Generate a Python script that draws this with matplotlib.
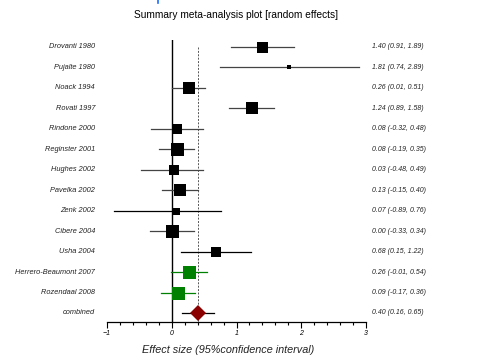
import matplotlib
matplotlib.use('Agg')
from matplotlib import pyplot as plt
from matplotlib.lines import Line2D
from matplotlib.ticker import MultipleLocator

plt.rcParams['font.family'] = ['Liberation Sans', 'DejaVu Sans']

# 数据
studies = ['Drovanti 1980', 'Pujalte 1980', 'Noack 1994', 'Rovati 1997', 'Rindone 2000',
           'Reginster 2001', 'Hughes 2002', 'Pavelka 2002', 'Zenk 2002', 'Cibere 2004',
           'Usha 2004', 'Herrero-Beaumont 2007', 'Rozendaal 2008']
effect = [1.40, 1.81, 0.26, 1.24, 0.08, 0.08, 0.03, 0.13, 0.07, 0.00, 0.68, 0.26, 0.09]
lower = [0.91, 0.74, 0.01, 0.89, -0.32, -0.19, -0.48, -0.15, -0.89, -0.33, 0.15, -0.01, -0.17]
upper = [1.89, 2.89, 0.51, 1.58, 0.48, 0.35, 0.49, 0.40, 0.76, 0.34, 1.22, 0.54, 0.36]
box_size = [11, 5, 12, 12, 10, 13, 10, 12, 7, 13, 10, 13, 13]  # 权重对应的方块大小(像素)
combined = 0.40
combined_ci = (0.16, 0.65)

fig = plt.figure(figsize=(4.81, 3.58), dpi=100)
ax = fig.add_axes([107 / 481, 36 / 358, 259 / 481, 282 / 358])

n = len(studies)
for i in range(n):
    if i >= 11:
        col, lcol = '#008000', '#008000'
    elif studies[i] in ('Zenk 2002', 'Usha 2004'):
        col, lcol = 'black', 'black'
    else:
        col, lcol = 'black', '#444444'
    ax.plot([lower[i], upper[i]], [i, i], color=lcol, lw=0.9, zorder=2)
    ax.plot(effect[i], i, marker='s', color=col, markersize=box_size[i] * 0.72,
            markeredgewidth=0, zorder=3)
    ax.text(-0.046, i, studies[i], transform=ax.get_yaxis_transform(), ha='right', va='center',
            fontsize=5.3, style='italic', color='#222222')
    ax.text(1.023, i, f'{effect[i]:.2f} ({lower[i]:.2f}, {upper[i]:.2f})',
            transform=ax.get_yaxis_transform(), ha='left', va='center',
            fontsize=5, style='italic', color='#222222')

# 合并效应
ax.plot(list(combined_ci), [n, n], color='black', lw=0.9, zorder=2)
ax.plot(combined, n, marker='D', color='#8B0000', markersize=8.5, markeredgewidth=0, zorder=3)
ax.text(-0.046, n, 'combined', transform=ax.get_yaxis_transform(), ha='right', va='center',
        fontsize=5.3, style='italic', color='#222222')
ax.text(1.023, n, f'{combined:.2f} ({combined_ci[0]:.2f}, {combined_ci[1]:.2f})',
        transform=ax.get_yaxis_transform(), ha='left', va='center',
        fontsize=5, style='italic', color='#222222')

ax.axvline(0, color='black', lw=1.0, zorder=1)
ax.plot([combined, combined], [0, n + 0.44], color='#555555', lw=0.7, ls=(0, (2, 1.5)), zorder=1)

ax.set_xlim(-1, 3)
ax.set_ylim(n + 0.44, -0.34)
for s in ['top', 'right', 'left']:
    ax.spines[s].set_visible(False)
ax.spines['bottom'].set_linewidth(0.9)
ax.set_yticks([])
ax.set_xticks([-1, 0, 1, 2, 3])
ax.xaxis.set_minor_locator(MultipleLocator(0.2))
ax.tick_params(axis='x', which='major', length=4.5, width=0.8, labelsize=5, pad=1.5)
ax.tick_params(axis='x', which='minor', length=2.3, width=0.8)
for lab in ax.get_xticklabels():
    lab.set_style('italic')

fig.text(236 / 481, 1 - 15 / 358, 'Summary meta-analysis plot [random effects]',
         ha='center', va='center', fontsize=7.3)
fig.text(228 / 481, 1 - 350 / 358, 'Effect size (95%confidence interval)',
         ha='center', va='center', fontsize=7.8, style='italic', color='#222222')
fig.add_artist(Line2D([158 / 481, 158 / 481], [1.0, 1 - 3 / 358], color='#1a6cff', lw=1.2))

fig.savefig('out.png', dpi=100)
